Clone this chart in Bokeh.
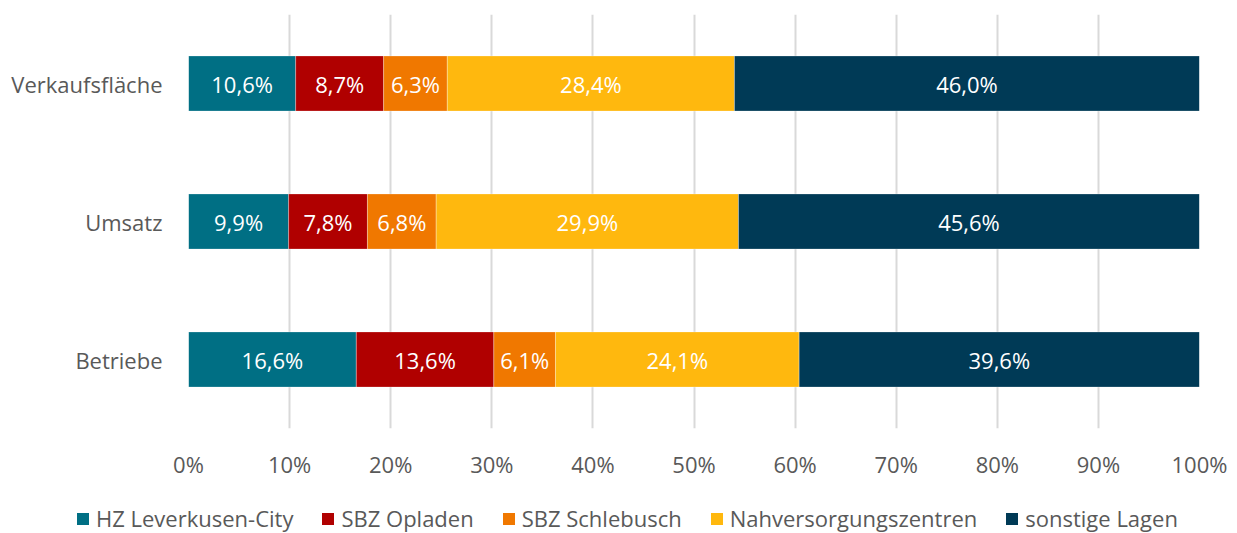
from bokeh.plotting import figure
from bokeh.layouts import column
from bokeh.models import ColumnDataSource, FactorRange, FixedTicker, PrintfTickFormatter, Legend, LegendItem, Range1d
from bokeh.core.properties import value
from bokeh.embed import file_html
from bokeh.resources import INLINE

categories = ["Betriebe", "Umsatz", "Verkaufsfläche"]
series = ["HZ Leverkusen-City", "SBZ Opladen", "SBZ Schlebusch", "Nahversorgungszentren", "sonstige Lagen"]
hz_city = [16.6, 9.9, 10.6]
sbz_opladen = [13.6, 7.8, 8.7]
sbz_schlebusch = [6.1, 6.8, 6.3]
nahversorgung = [24.1, 29.9, 28.4]
sonstige = [39.6, 45.6, 46.0]
x_ticks = [0, 10, 20, 30, 40, 50, 60, 70, 80, 90, 100]

colors = ["#006F84", "#B00000", "#F07800", "#FFB80E", "#003A56"]
FONT = "Open Sans"
TXT = "#595959"
FS = "22px"

vals = [hz_city, sbz_opladen, sbz_schlebusch, nahversorgung, sonstige]
data = {"cat": categories}
for name, v in zip(series, vals):
    data[name] = v
src = ColumnDataSource(data)

W = 1230
p = figure(width=W, height=481, y_range=FactorRange(factors=categories, range_padding=0),
           x_range=Range1d(0, 100), output_backend="svg", toolbar_location=None,
           min_border_left=188, min_border_right=31, min_border_top=14, min_border_bottom=51)
p.outline_line_color = None

p.hbar_stack(series, y="cat", height=0.4, color=colors, source=src,
             line_color="white", line_width=0.6, line_alpha=0.5)

# data labels
lx, ly, lt = [], [], []
for i, c in enumerate(categories):
    cum = 0.0
    for v in vals:
        s = v[i]
        lx.append(cum + s / 2.0)
        ly.append(c)
        lt.append(f"{s:.1f}".replace(".", ",") + "%")
        cum += s
lsrc = ColumnDataSource(dict(x=lx, y=ly, t=lt))
p.text(x="x", y="y", text="t", source=lsrc, text_color="white", text_align="center",
       text_baseline="middle", text_font=value(FONT), text_font_size=FS)

p.xaxis.ticker = FixedTicker(ticks=x_ticks)
p.xaxis.formatter = PrintfTickFormatter(format="%d%%")
for ax in (p.xaxis, p.yaxis):
    ax.axis_line_color = None
    ax.major_tick_line_color = None
    ax.minor_tick_line_color = None
    ax.major_tick_in = 0
    ax.major_tick_out = 0
    ax.minor_tick_in = 0
    ax.minor_tick_out = 0
    ax.major_label_text_font = FONT
    ax.major_label_text_font_size = FS
    ax.major_label_text_color = TXT
p.xaxis.major_label_standoff = 20
p.yaxis.major_label_standoff = 26

p.xgrid.ticker = FixedTicker(ticks=x_ticks)
p.xgrid.grid_line_color = "#D9D9D9"
p.xgrid.grid_line_width = 2
p.ygrid.grid_line_color = None

# legend strip (proxy bars use factors that this strip does not show)
p2 = figure(width=W, height=52, x_range=Range1d(0, 100),
            y_range=FactorRange(factors=["legend"]),
            output_backend="svg", toolbar_location=None,
            min_border_left=0, min_border_right=0, min_border_top=0, min_border_bottom=0)
p2.axis.visible = False
p2.grid.visible = False
p2.outline_line_color = None
leg_x = -113
if "frame_align" in p2.properties():
    p2.frame_align = False
    leg_x = 75
proxies = p2.hbar_stack(series, y="cat", height=0.4, color=colors, source=src, line_color=None)
legend = Legend(items=[LegendItem(label=n, renderers=[r]) for n, r in zip(series, proxies)],
                orientation="horizontal", location=(leg_x, 0),
                glyph_width=15, glyph_height=15, label_standoff=6, spacing=27,
                padding=0, margin=0, border_line_color=None, background_fill_alpha=0,
                label_text_font=FONT, label_text_font_size=FS, label_text_color=TXT)
p2.add_layout(legend, "center")

open("out.html", "w").write(file_html(column(p, p2, spacing=0), INLINE))
